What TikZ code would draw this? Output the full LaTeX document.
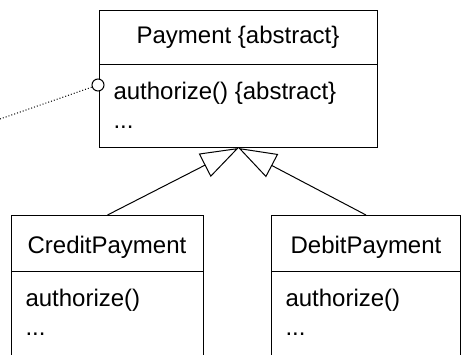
\documentclass[tikz,border=0pt]{standalone}
\usepackage{fontspec}
\setmainfont{Liberation Sans}
\usetikzlibrary{arrows.meta}
\begin{document}
\begin{tikzpicture}[x=1pt,y=-1pt, line width=1pt,
  comp/.style={draw, rectangle, inner sep=0pt, anchor=north west},
  lbl/.style={font=\fontsize{24}{28}\selectfont, inner sep=0pt, anchor=base west},
  ttl/.style={font=\fontsize{24}{28}\selectfont, inner sep=0pt, anchor=base},
  gen/.style={-{Triangle[open,length=38pt,width=26pt]}},
  iface/.style={draw, circle, minimum size=12pt, inner sep=0pt, fill=white}]
\useasboundingbox (0,0) rectangle (462,354);
\clip (0,0) rectangle (462,354);
% Payment
\node[comp, minimum width=278pt, minimum height=54pt] (payhead) at (99,10) {};
\node[comp, minimum width=278pt, minimum height=83pt] (paybody) at (99,64) {};
\node[ttl] (paytitle) at (238,43) {Payment \{abstract\}};
\node[lbl] (payop) at (113,99) {authorize() \{abstract\}};
\node[lbl] (paydots) at (113,128) {...};
% CreditPayment
\node[comp, minimum width=192pt, minimum height=56pt] (crhead) at (11,215) {};
\node[comp, minimum width=192pt, minimum height=100pt] (crbody) at (11,271) {};
\node[ttl] (crtitle) at (107,253) {CreditPayment};
\node[lbl] (crop) at (25,306) {authorize()};
\node[lbl] (crdots) at (25,335) {...};
% DebitPayment
\node[comp, minimum width=189pt, minimum height=56pt] (dbhead) at (271,215) {};
\node[comp, minimum width=189pt, minimum height=100pt] (dbbody) at (271,271) {};
\node[ttl] (dbtitle) at (366,253) {DebitPayment};
\node[lbl] (dbop) at (285,306) {authorize()};
\node[lbl] (dbdots) at (285,335) {...};
% generalization
\draw[gen] (crhead.north) -- (paybody.south);
\draw[gen] (dbhead.north) -- (paybody.south);
% interface lollipop
\node[iface] (ifc) at (98,85) {};
\coordinate (dotend) at (0,119);
\draw[line width=1pt, dash pattern=on 1pt off 2pt] (dotend) -- (ifc);
\end{tikzpicture}
\end{document}
